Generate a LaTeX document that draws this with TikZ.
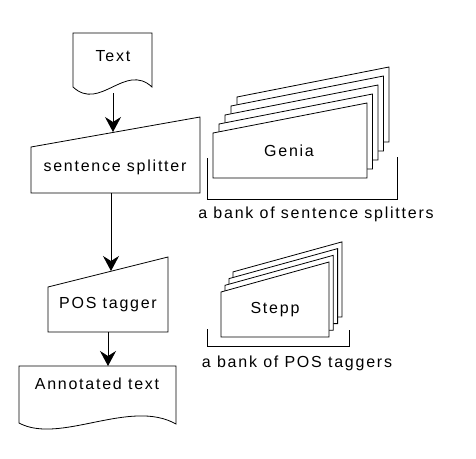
\documentclass[tikz,border=0pt]{standalone}
\usepackage[rgb]{xcolor}
\usepackage{fontspec}
\setmainfont{Liberation Sans}[LetterSpace=11]
\usepackage{tikz}
\usetikzlibrary{arrows.meta}

\tikzset{
  outline/.style={draw=black, line width=0.8pt, fill=white},
  flow/.style={draw=black, line width=0.8pt,
    -{Stealth[length=15pt, width=16pt, inset=5pt]}},
  lbl/.style={inner sep=0pt, font=\fontsize{16}{19}\selectfont}
}

\begin{document}
\begin{tikzpicture}[x=1pt, y=-1pt]

\useasboundingbox (0,0) rectangle (476,458);

%
% Pipeline
%

% Text document
\filldraw[outline] (73,33) -- (73,87)
  .. controls (100,112) and (125,62) .. (152,87) -- (152,33) -- cycle;
\path
(113,56) node [lbl] (txt) {Text};

% Sentence splitter
\filldraw[outline] (31,147) -- (200,117) -- (200,193) -- (31,193) -- cycle;
\path
(115,167) node [lbl] (splitter) {sentence splitter};

% POS tagger
\filldraw[outline] (48,287) -- (168,257) -- (168,332) -- (48,332) -- cycle;
\path
(108,305) node [lbl] (tagger) {POS tagger};

% Annotated text document
\filldraw[outline] (19,366) -- (19,423)
  .. controls (60,445) and (130,398) .. (176,424) -- (176,366) -- cycle;
\path
(97,384) node [lbl] (annot) {Annotated text};

% Flow
\coordinate (txt-out) at (113,93);
\coordinate (splitter-in) at (113,132);
\coordinate (splitter-out) at (111,193);
\coordinate (tagger-in) at (111,271);
\coordinate (tagger-out) at (108,332);
\coordinate (annot-in) at (108,366);

\draw[flow] (txt-out) -- (splitter-in);
\draw[flow] (splitter-out) -- (tagger-in);
\draw[flow] (tagger-out) -- (annot-in);

%
% Bank of sentence splitters
%
\foreach \k in {4,3,2,1,0} {
  \filldraw[outline] ({213+6*\k},{133-9*\k}) -- ({367+5.5*\k},{103-9*\k})
    -- ({367+5.5*\k},{178-9*\k}) -- ({213+6*\k},{178-9*\k}) -- cycle;
}
\path
(289,151) node [lbl] (genia) {Genia};

\draw[black, line width=0.8pt] (207,158) -- (207,199) -- (397,199) -- (397,157);
\path
(316,214) node [lbl] (bankA) {a bank of sentence splitters};

%
% Bank of POS taggers
%
\foreach \k in {3,2,1,0} {
  \filldraw[outline] ({221+4*\k},{292-6.7*\k}) -- ({329+4.3*\k},{262-6.7*\k})
    -- ({329+4.3*\k},{337-6.7*\k}) -- ({221+4*\k},{337-6.7*\k}) -- cycle;
}
\path
(275,310) node [lbl] (stepp) {Stepp};

\draw[black, line width=0.8pt] (207,329) -- (207,346) -- (349,346) -- (349,330);
\path
(297,363) node [lbl] (bankB) {a bank of POS taggers};

\end{tikzpicture}
\end{document}
